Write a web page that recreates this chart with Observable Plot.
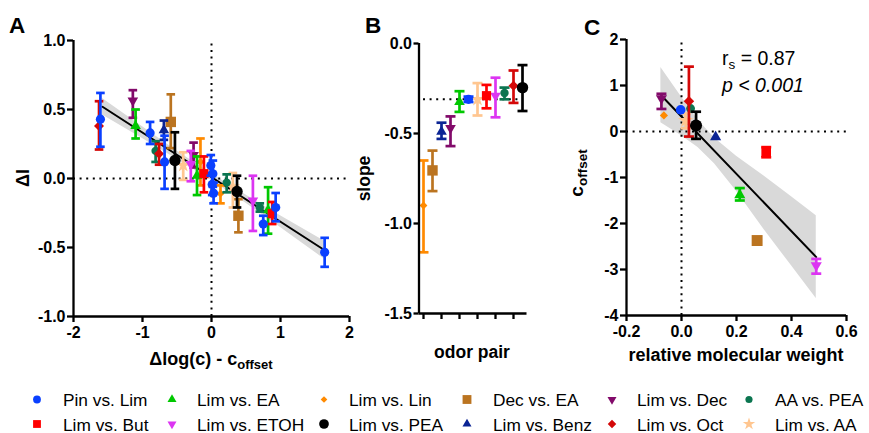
<!DOCTYPE html>
<html><head><meta charset="utf-8">
<script src="https://cdn.jsdelivr.net/npm/d3@7"></script>
<script src="https://cdn.jsdelivr.net/npm/@observablehq/plot@0.6"></script>
<style>
body{margin:0;background:#fff;font-family:"Liberation Sans",Arial,sans-serif;}
#wrap{position:relative;width:869px;height:433px;overflow:hidden;background:#fff}
.pan{position:absolute;top:0}
</style></head>
<body><div id="wrap"></div>
<script>
// ---------- series definitions ----------
const pairs  = ["Pin vs. Lim","Lim vs. But","Lim vs. EA","Lim vs. ETOH","Lim vs. Lin","Lim vs. PEA","Dec vs. EA","Lim vs. Benz","Lim vs. Dec","Lim vs. Oct","AA vs. PEA","Lim vs. AA"];
const colors = ["#0a40ff","#ff0000","#00c800","#dc35f2","#ff8a00","#000000","#bb7420","#0b2494","#820a6a","#d40808","#0b7550","#ffc690"];
const shapes = ["circle","square","triUp","triDown","diamond","circle","square","triUp","triDown","diamond","circle","star"];
const sizes  = [4.6,4.6,5.3,5.3,3.9,5.7,5.2,5.3,5.3,5,4.2,4.6];
const drawOrder = ["Lim vs. AA","Dec vs. EA","Lim vs. Dec","Lim vs. ETOH","Lim vs. Lin","Lim vs. EA","AA vs. PEA","Lim vs. But","Lim vs. Oct","Lim vs. Benz","Pin vs. Lim","Lim vs. PEA"];
// legend: row 1 and row 2
const legendRow1 = ["Pin vs. Lim","Lim vs. EA","Lim vs. Lin","Dec vs. EA","Lim vs. Dec","AA vs. PEA"];
const legendRow2 = ["Lim vs. But","Lim vs. ETOH","Lim vs. PEA","Lim vs. Benz","Lim vs. Oct","Lim vs. AA"];

// ---------- Panel A ----------
const aPair = ["Lim vs. Oct","Pin vs. Lim","Lim vs. Dec","Lim vs. EA","Pin vs. Lim","Lim vs. Benz","Dec vs. EA","AA vs. PEA","Lim vs. Oct","Pin vs. Lim","Lim vs. PEA","Lim vs. AA","Lim vs. Dec","Lim vs. ETOH","Lim vs. EA","Lim vs. Lin","Lim vs. But","Pin vs. Lim","Pin vs. Lim","Pin vs. Lim","Pin vs. Lim","Lim vs. Lin","AA vs. PEA","Lim vs. AA","Lim vs. PEA","Dec vs. EA","Lim vs. ETOH","AA vs. PEA","Pin vs. Lim","Lim vs. EA","Lim vs. But","Pin vs. Lim","Pin vs. Lim"];
const aX  = [-1.63,-1.61,-1.14,-1.10,-0.89,-0.69,-0.59,-0.81,-0.76,-0.68,-0.53,-0.41,-0.26,-0.30,-0.21,-0.16,-0.11,-0.01,0.02,0.01,0.03,0.13,0.22,0.31,0.37,0.39,0.60,0.70,0.75,0.82,0.88,0.93,1.64];
const aY  = [0.38,0.43,0.565,0.38,0.33,0.35,0.41,0.20,0.18,0.12,0.13,0.095,0.17,0.105,0.02,0.12,0.035,0.094,0.034,-0.043,-0.106,-0.11,-0.03,-0.06,-0.094,-0.27,-0.16,-0.21,-0.33,-0.23,-0.255,-0.21,-0.535];
const aLo = [0.21,0.23,0.44,0.29,0.25,0.28,0.22,0.12,0.10,-0.075,-0.075,-0.01,0.08,-0.02,-0.12,-0.05,-0.10,0.02,-0.06,-0.12,-0.18,-0.18,-0.10,-0.21,-0.21,-0.39,-0.38,-0.24,-0.41,-0.40,-0.33,-0.31,-0.64];
const aHi = [0.56,0.62,0.64,0.50,0.41,0.42,0.61,0.27,0.25,0.31,0.335,0.19,0.26,0.20,0.16,0.29,0.16,0.17,0.13,0.04,-0.03,-0.05,0.03,0.04,0.02,-0.15,0.02,-0.18,-0.27,-0.063,-0.17,-0.105,-0.43];
const aLineX = [-1.58, 1.64];
const aLineY = [0.52, -0.52];
const aBandX  = [-1.58,-1.0,-0.5,0,0.5,1.0,1.64];
const aBandHi = [0.58,0.375,0.20,0.035,-0.12,-0.27,-0.455];
const aBandLo = [0.46,0.29,0.14,-0.015,-0.18,-0.355,-0.585];
const aXTicks = [-2,-1,0,1,2];
const aYTicks = [-1,-0.5,0,0.5,1];

// ---------- Panel B ----------
const bPair  = ["Lim vs. Lin","Dec vs. EA","Lim vs. Benz","Lim vs. Dec","Lim vs. EA","Pin vs. Lim","Lim vs. AA","Lim vs. But","Lim vs. ETOH","AA vs. PEA","Lim vs. Oct","Lim vs. PEA"];
const bSlope = [-0.90,-0.705,-0.49,-0.47,-0.325,-0.31,-0.31,-0.29,-0.29,-0.275,-0.235,-0.245];
const bLo    = [-1.16,-0.82,-0.53,-0.57,-0.38,-0.325,-0.40,-0.36,-0.41,-0.31,-0.33,-0.375];
const bHi    = [-0.65,-0.595,-0.44,-0.405,-0.265,-0.295,-0.22,-0.23,-0.19,-0.245,-0.15,-0.12];
const bRef = -0.31;
const bYTicks = [0,-0.5,-1,-1.5];
const bXTicks = [0,2,4,6,8,10];

// ---------- Panel C ----------
const cPair = ["Lim vs. Dec","Lim vs. Lin","Pin vs. Lim","AA vs. PEA","Lim vs. AA","Lim vs. Oct","Lim vs. PEA","Lim vs. Benz","Lim vs. But","Lim vs. EA","Dec vs. EA","Lim vs. ETOH"];
const cX  = [-0.073,-0.064,-0.003,0.033,0.015,0.027,0.053,0.124,0.308,0.212,0.275,0.49];
const cY  = [0.72,0.35,0.47,0.50,0.24,0.66,0.13,-0.12,-0.45,-1.38,-2.37,-2.91];
const cLo = [0.49,null,null,null,0.07,-0.11,-0.16,null,-0.56,-1.50,null,-3.09];
const cHi = [0.82,null,null,null,0.39,1.41,0.43,null,-0.34,-1.23,null,-2.77];
const cLineX = [-0.07, 0.49];
const cLineY = [0.76, -2.73];
const cBandX  = [-0.075,0,0.06,0.12,0.2,0.3,0.4,0.49];
const cBandHi = [1.39,0.75,0.25,-0.14,-0.54,-0.97,-1.42,-1.83];
const cBandLo = [0.19,-0.09,-0.35,-0.70,-1.30,-2.13,-2.92,-3.63];
const cXTicks = [-0.2,0,0.2,0.4,0.6];
const cYTicks = [2,1,0,-1,-2,-3,-4];

// ---------- symbols ----------
const rOf = size => Math.sqrt(size / Math.PI);
const SYM = {
  circle: d3.symbolCircle,
  square: {draw(c, s){ const r = rOf(s); c.rect(-r, -r, 2*r, 2*r); }},
  triUp: {draw(c, s){ const r = rOf(s), h = r*Math.sqrt(3); c.moveTo(0, -2*h/3); c.lineTo(r, h/3); c.lineTo(-r, h/3); c.closePath(); }},
  triDown: {draw(c, s){ const r = rOf(s), h = r*Math.sqrt(3); c.moveTo(0, 2*h/3); c.lineTo(r, -h/3); c.lineTo(-r, -h/3); c.closePath(); }},
  diamond: {draw(c, s){ const r = rOf(s); c.moveTo(0, -r); c.lineTo(r, 0); c.lineTo(0, r); c.lineTo(-r, 0); c.closePath(); }},
  star: d3.symbolStar
};
const capSym = {draw(c, s){ const r = rOf(s); c.moveTo(-r, 0); c.lineTo(r, 0); }};

function rows(P, X, Y, L, H){ return P.map((p,i)=>({pair:p, x:X[i], y:Y[i], lo:L[i], hi:H[i]})); }

function pointMarks(data, capR, sw, scale){
  const m = [];
  for (const p of drawOrder){
    const k = pairs.indexOf(p);
    const d = data.filter(r => r.pair === p);
    if (!d.length) continue;
    const e = d.filter(r => r.lo != null && r.hi != null);
    if (e.length){
      m.push(Plot.ruleX(e, {x:"x", y1:"lo", y2:"hi", stroke:colors[k], strokeWidth:sw}));
      m.push(Plot.dot(e, {x:"x", y:"lo", symbol:capSym, r:capR, stroke:colors[k], fill:"none", strokeWidth:sw}));
      m.push(Plot.dot(e, {x:"x", y:"hi", symbol:capSym, r:capR, stroke:colors[k], fill:"none", strokeWidth:sw}));
    }
    m.push(Plot.dot(d, {x:"x", y:"y", symbol:SYM[shapes[k]], r:sizes[k]*scale, fill:colors[k], stroke:"none"}));
  }
  return m;
}

const style = {fontFamily:'"Liberation Sans", Arial, sans-serif', fontSize:"16px", fontWeight:"bold", color:"#000", background:"none", overflow:"visible"};
const dots = {stroke:"#000", strokeWidth:2, strokeDasharray:"2,4.6"};
const AXW = 2.3;
const fmt1 = d => d.toFixed(1);
const fmt0 = d => String(d);

const wrap = document.getElementById("wrap");
function place(svg, left){ const div = document.createElement("div"); div.className = "pan"; div.style.left = left + "px"; div.appendChild(svg); wrap.appendChild(div); }

// Panel A
const aData = rows(aPair, aX, aY, aLo, aHi);
const aBand = aBandX.map((x,i)=>({x, lo:aBandLo[i], hi:aBandHi[i]}));
const aLine = aLineX.map((x,i)=>({x, y:aLineY[i]}));
place(Plot.plot({
  width:360, height:345, marginLeft:73, marginRight:11, marginTop:40, marginBottom:29,
  x:{domain:[-2,2]}, y:{domain:[-1,1]}, style,
  marks:[
    Plot.areaY(aBand, {x:"x", y1:"lo", y2:"hi", fill:"#d9d9d9"}),
    Plot.ruleY([0], {x1:-2, x2:2, ...dots}),
    Plot.ruleX([0], {y1:-1, y2:1, ...dots}),
    Plot.line(aLine, {x:"x", y:"y", stroke:"#000", strokeWidth:2}),
    ...pointMarks(aData, 4.3, 2.7, 1),
    Plot.ruleX([-2], {y1:-1, y2:1, strokeWidth:AXW}),
    Plot.ruleY([-1], {x1:-2, x2:2, strokeWidth:AXW}),
    Plot.axisX({ticks:aXTicks, tickFormat:fmt0, tickSize:6, tickPadding:4, strokeWidth:AXW, label:null}),
    Plot.axisY({ticks:aYTicks, tickFormat:fmt1, tickSize:6, tickPadding:2, strokeWidth:AXW, label:null})
  ]
}), 0);

// Panel B
const bData = bPair.map((p,i)=>({pair:p, x:i, y:bSlope[i], lo:bLo[i], hi:bHi[i]}));
place(Plot.plot({
  width:190, height:345, marginLeft:68.5, marginRight:13.5, marginTop:43, marginBottom:32,
  x:{domain:[-0.5, bPair.length-0.5]}, y:{domain:[-1.5,0]}, style,
  marks:[
    Plot.ruleY([bRef], {x1:0, x2:bPair.length-1, ...dots}),
    ...pointMarks(bData, 5, 2.7, 1),
    Plot.ruleX([-0.5], {y1:-1.5, y2:0, strokeWidth:AXW}),
    Plot.ruleY([-1.5], {x1:-0.5, x2:bPair.length-0.5, strokeWidth:AXW}),
    Plot.axisX({ticks:bXTicks, tickFormat:()=>"", tickSize:6, strokeWidth:AXW, label:null}),
    Plot.axisY({ticks:bYTicks, tickFormat:fmt1, tickSize:5, tickPadding:2, strokeWidth:AXW, label:null})
  ]
}), 350);

// Panel C
const cData = rows(cPair, cX, cY, cLo, cHi);
const cBand = cBandX.map((x,i)=>({x, lo:cBandLo[i], hi:cBandHi[i]}));
const cLine = cLineX.map((x,i)=>({x, y:cLineY[i]}));
place(Plot.plot({
  width:300, height:345, marginLeft:66, marginRight:14, marginTop:39, marginBottom:30,
  x:{domain:[-0.2,0.6]}, y:{domain:[-4,2]}, style,
  marks:[
    Plot.areaY(cBand, {x:"x", y1:"lo", y2:"hi", fill:"#d9d9d9"}),
    Plot.ruleY([0], {x1:-0.2, x2:0.6, ...dots}),
    Plot.ruleX([0], {y1:-4, y2:2, ...dots}),
    Plot.line(cLine, {x:"x", y:"y", stroke:"#000", strokeWidth:2}),
    ...pointMarks(cData, 5, 2.7, 1.05),
    Plot.ruleX([-0.2], {y1:-4, y2:2, strokeWidth:AXW}),
    Plot.ruleY([-4], {x1:-0.2, x2:0.6, strokeWidth:AXW}),
    Plot.axisX({ticks:cXTicks, tickFormat:fmt1, tickSize:6, tickPadding:4, strokeWidth:AXW, label:null}),
    Plot.axisY({ticks:cYTicks, tickFormat:fmt0, tickSize:6, tickPadding:2, strokeWidth:AXW, label:null})
  ]
}), 560);

// ---------- overlay texts & legend ----------
const ov = d3.select(wrap).append("svg")
  .attr("width",869).attr("height",433)
  .style("position","absolute").style("left","0").style("top","0")
  .attr("font-family",'"Liberation Sans", Arial, sans-serif').attr("fill","#000");

// panel letters
[["A",9,33],["B",365,33],["C",584,35]].forEach(([t,x,y]) =>
  ov.append("text").attr("x",x).attr("y",y).attr("font-size",22.5).attr("font-weight","bold").text(t));

// axis titles
const tA = ov.append("text").attr("x",211).attr("y",365).attr("text-anchor","middle").attr("font-size",18).attr("font-weight","bold");
tA.append("tspan").text("\u0394log(c) - c");
tA.append("tspan").attr("dy",4).attr("font-size",13).text("offset");

ov.append("text").attr("transform","translate(28.5,178) rotate(-90)").attr("text-anchor","middle")
  .attr("font-size",18).attr("font-weight","bold").text("\u0394I");
ov.append("text").attr("transform","translate(369.5,178.5) rotate(-90)").attr("text-anchor","middle")
  .attr("font-size",17.5).attr("font-weight","bold").text("slope");
ov.append("text").attr("x",472).attr("y",358).attr("text-anchor","middle")
  .attr("font-size",17.5).attr("font-weight","bold").text("odor pair");
const tC = ov.append("text").attr("transform","translate(583,173) rotate(-90)").attr("text-anchor","middle")
  .attr("font-size",19).attr("font-weight","bold");
tC.append("tspan").text("c");
tC.append("tspan").attr("dy",4).attr("font-size",13.5).text("offset");
ov.append("text").attr("x",736).attr("y",360.5).attr("text-anchor","middle")
  .attr("font-size",18).attr("font-weight","bold").text("relative molecular weight");

// annotation
const rs = ov.append("text").attr("x",722).attr("y",65).attr("font-size",19.5);
rs.append("tspan").text("r");
rs.append("tspan").attr("dy",4).attr("font-size",13.5).text("s");
rs.append("tspan").attr("dy",-4).text(" = 0.87");
ov.append("text").attr("x",722).attr("y",92).attr("font-size",19.5).attr("font-style","italic").text("p < 0.001");

// legend
const legMarkX = [37,172,324,467,612,749];
const legTextX = [63,197,349,493,637,775];
const legRows = [[legendRow1, 399.5, 406], [legendRow2, 424, 430.5]];
legRows.forEach(([names, cy, by]) => {
  names.forEach((name, j) => {
    const k = pairs.indexOf(name);
    const r = sizes[k] * 0.85;
    ov.append("path")
      .attr("d", d3.symbol(SYM[shapes[k]], Math.PI*r*r)())
      .attr("transform", `translate(${legMarkX[j]},${cy})`)
      .attr("fill", colors[k]);
    ov.append("text").attr("x", legTextX[j]).attr("y", by).attr("font-size",17.3).text(name);
  });
});
</script>
</body></html>
